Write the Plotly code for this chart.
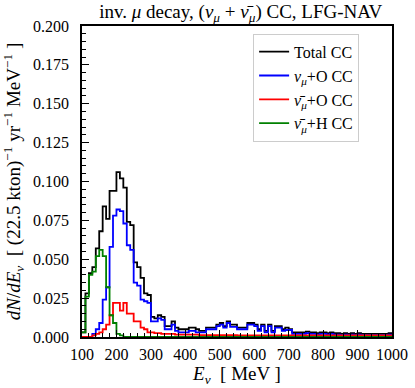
import numpy as np
import plotly.graph_objects as go

# 10 MeV bins from 100 to 1000 MeV
edges = np.arange(100, 1001, 10)

total_cc = [0.003, 0.028, 0.041, 0.045, 0.057, 0.068, 0.084, 0.076, 0.094, 0.094,
            0.106, 0.102, 0.096, 0.074, 0.072, 0.048, 0.045, 0.038, 0.028, 0.027,
            0.013, 0.012, 0.014, 0.013, 0.007, 0.007, 0.010, 0.006, 0.005, 0.005,
            0.005, 0.006, 0.006, 0.005, 0.004, 0.004, 0.006, 0.006, 0.006, 0.008,
            0.009, 0.007, 0.010, 0.008, 0.008, 0.006, 0.006, 0.006, 0.009, 0.009,
            0.008, 0.005, 0.008, 0.004, 0.008, 0.004, 0.007, 0.007, 0.005, 0.006,
            0.005, 0.003, 0.003, 0.003, 0.003, 0.0035, 0.003, 0.003, 0.0025, 0.003,
            0.003, 0.0025, 0.003, 0.0025, 0.0025, 0.002, 0.0025, 0.002, 0.0025, 0.002,
            0.0025, 0.002, 0.002, 0.002, 0.002, 0.002, 0.002, 0.002, 0.002, 0.0025]

numu_o = [0, 0, 0, 0.002, 0.005, 0.009, 0.024, 0.032, 0.058, 0.078,
          0.082, 0.081, 0.073, 0.059, 0.056, 0.035, 0.033, 0.024, 0.023, 0.022,
          0.010, 0.010, 0.012, 0.011, 0.005, 0.005, 0.008, 0.004, 0.003, 0.003,
          0.003, 0.004, 0.004, 0.003, 0.003, 0.003, 0.005, 0.005, 0.005, 0.007,
          0.008, 0.006, 0.009, 0.0065, 0.0065, 0.005, 0.005, 0.005, 0.008, 0.008,
          0.007, 0.004, 0.007, 0.003, 0.007, 0.003, 0.006, 0.006, 0.004, 0.0045,
          0.0045, 0.002, 0.002, 0.002, 0.002, 0.0025, 0.002, 0.002, 0.0015, 0.002,
          0.002, 0.0015, 0.002, 0.0015, 0.0015, 0.0012, 0.0015, 0.0012, 0.0015, 0.001,
          0.0015, 0.0012, 0.001, 0.0012, 0.001, 0.0012, 0.001, 0.0012, 0.001, 0.0015]

numubar_o = [0, 0, 0, 0.001, 0.002, 0.003, 0.005, 0.008, 0.014, 0.022,
             0.022, 0.017, 0.022, 0.015, 0.015, 0.010, 0.010, 0.006, 0.005, 0.003,
             0.003, 0.0025, 0.0025, 0.002, 0.002, 0.002, 0.002, 0.0015, 0.0015, 0.0015,
             0.0015, 0.0015, 0.0015, 0.0015, 0.0012, 0.0012, 0.0012, 0.0012, 0.0012, 0.0012,
             0.0012, 0.0012, 0.0012, 0.0012, 0.0012, 0.001, 0.001, 0.001, 0.001, 0.001,
             0.001, 0.001, 0.001, 0.001, 0.001, 0.001, 0.001, 0.001, 0.001, 0.001,
             0.001, 0.001, 0.001, 0.001, 0.001, 0.001, 0.001, 0.001, 0.001, 0.001,
             0.001, 0.001, 0.001, 0.001, 0.001, 0.001, 0.001, 0.001, 0.001, 0.001,
             0.001, 0.001, 0.001, 0.001, 0.001, 0.001, 0.001, 0.001, 0.001, 0.001]

numubar_h = [0.003, 0.026, 0.040, 0.042, 0.052, 0.056, 0.052, 0.032, 0.014, 0.009,
             0.002, 0.001] + [0] * 78

series = [
    ("Total CC", total_cc, "black"),
    ("<i>ν</i><sub><i>μ</i></sub>+O CC", numu_o, "#0000ff"),
    ("<i>ν̄</i><sub><i>μ</i></sub>+O CC", numubar_o, "#ff0000"),
    ("<i>ν̄</i><sub><i>μ</i></sub>+H CC", numubar_h, "#008000"),
]

fig = go.Figure()
for name, vals, color in series:
    y = list(vals) + [vals[-1]]
    fig.add_trace(go.Scatter(x=edges, y=y, mode="lines", name=name,
                             line=dict(color=color, width=1.8, shape="hv")))

font = "Liberation Serif"
fig.update_layout(
    width=415, height=388,
    margin=dict(l=82, r=23, t=26, b=51),
    paper_bgcolor="white", plot_bgcolor="white",
    font=dict(family=font, size=16, color="black"),
    title=dict(text="inv. <i>μ</i> decay, (<i>ν</i><sub><i>μ</i></sub> + <i>ν̄</i><sub><i>μ</i></sub>) CC, LFG-NAV",
               x=0.58, xanchor="center", y=0.972, yanchor="middle",
               font=dict(family=font, size=19)),
    legend=dict(x=0.552, y=0.975, xanchor="left", yanchor="top",
                bgcolor="white", bordercolor="#cccccc", borderwidth=1,
                font=dict(family=font, size=16)),
    showlegend=True,
)
fig.update_xaxes(range=[100, 1000], dtick=100, tick0=100, automargin=False,
                 ticks="inside", ticklen=7, tickwidth=1, tickcolor="black",
                 ticklabelstandoff=2,
                 minor=dict(dtick=20, ticks="inside", ticklen=4, tickcolor="black"),
                 showline=True, linecolor="black", linewidth=1.5, mirror=True,
                 showgrid=False, zeroline=False,
                 title=dict(text="<i>E</i><sub><i>ν</i></sub>  [ MeV ]", standoff=2))
fig.update_yaxes(range=[0, 0.2], dtick=0.025, tickformat=".3f", automargin=False,
                 ticks="inside", ticklen=7, tickwidth=1, tickcolor="black",
                 ticklabelstandoff=8,
                 minor=dict(dtick=0.005, ticks="inside", ticklen=4, tickcolor="black"),
                 showline=True, linecolor="black", linewidth=1.5, mirror=True,
                 showgrid=False, zeroline=False,
                 title=dict(text="<i>dN</i>/<i>dE</i><sub><i>ν</i></sub>  [ (22.5 kton)<sup>−1</sup> yr<sup>−1</sup> MeV<sup>−1</sup> ]",
                            standoff=10))

# remove the default page margin so the figure sits at the window's corner
fig.write_html("out.html", config={"displayModeBar": False},
               post_script="document.body.style.margin='0';")
